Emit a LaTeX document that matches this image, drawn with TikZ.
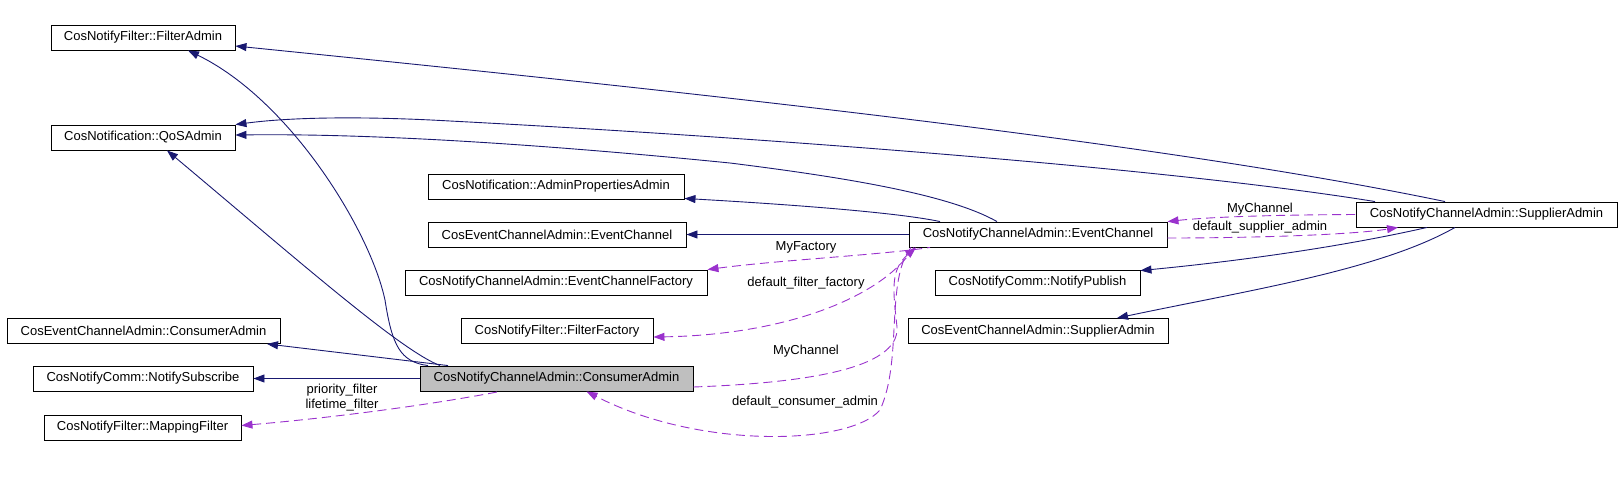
\documentclass[tikz,border=0pt]{standalone}
\usepackage{fontspec}
\setmainfont{Liberation Sans}
\usetikzlibrary{arrows.meta}
\definecolor{inhblue}{RGB}{25,25,112}
\definecolor{usepurple}{RGB}{154,50,205}
\definecolor{mainfill}{RGB}{191,191,191}
\tikzset{
  box/.style={draw=black, line width=0.9pt, minimum height=25pt, inner sep=0pt, font=\fontsize{13}{15}\selectfont, fill=white},
  mainbox/.style={box, fill=mainfill},
  inh/.style={draw=inhblue, line width=0.9pt, {Triangle[length=11pt,width=8pt,fill=inhblue]}-},
  usage/.style={draw=usepurple, line width=0.9pt, dash pattern=on 9pt off 5pt, {Triangle[length=11pt,width=8pt,fill=usepurple]}-},
  usagerev/.style={draw=usepurple, line width=0.9pt, dash pattern=on 9pt off 5pt, -{Triangle[length=11pt,width=8pt,fill=usepurple]}},
  lbl/.style={font=\fontsize{13}{15}\selectfont, inner sep=0pt, align=center},
}
\begin{document}
\begin{tikzpicture}[x=1pt,y=-1pt]
\useasboundingbox (0,0) rectangle (1621,483);
% nodes
\node[box, minimum width=184pt] (FA) at (143,37.5) {CosNotifyFilter::FilterAdmin};
\node[box, minimum width=184pt] (QA) at (143,137.5) {CosNotification::QoSAdmin};
\node[box, minimum width=256pt] (APA) at (556,186.5) {CosNotification::AdminPropertiesAdmin};
\node[box, minimum width=258pt] (ECA) at (557,234.5) {CosEventChannelAdmin::EventChannel};
\node[box, minimum width=302pt] (ECF) at (556,282.5) {CosNotifyChannelAdmin::EventChannelFactory};
\node[box, minimum width=192pt] (FF) at (557,331) {CosNotifyFilter::FilterFactory};
\node[box, minimum width=273pt] (CEA) at (143.5,331) {CosEventChannelAdmin::ConsumerAdmin};
\node[box, minimum width=220pt] (NS) at (143,378.5) {CosNotifyComm::NotifySubscribe};
\node[box, minimum width=197pt] (MF) at (142.5,427.5) {CosNotifyFilter::MappingFilter};
\node[mainbox, minimum width=273pt] (CA) at (556.5,378.5) {CosNotifyChannelAdmin::ConsumerAdmin};
\node[box, minimum width=258pt] (NEC) at (1038,234.5) {CosNotifyChannelAdmin::EventChannel};
\node[box, minimum width=205pt] (NP) at (1037.5,282.5) {CosNotifyComm::NotifyPublish};
\node[box, minimum width=260pt] (ESA) at (1038,331) {CosEventChannelAdmin::SupplierAdmin};
\node[box, minimum width=261pt] (NSA) at (1486.5,214.5) {CosNotifyChannelAdmin::SupplierAdmin};

% inheritance edges (blue)
\draw[inh] ([xshift=45pt]FA.south) .. controls (290,100) and (370,230) .. (385,300)
   .. controls (392,345) and (400,362) .. ([xshift=-128.5pt]CA.north);
\draw[inh] ([xshift=24pt]QA.south) .. controls (300,262) and (400,350) .. ([xshift=-116.5pt]CA.north);
\draw[inh] ([xshift=123.5pt]CEA.south) -- ([xshift=-108.5pt]CA.north);
\draw[inh] (NS.east) -- (CA.west);
\draw[inh] ([yshift=-8.5pt]FA.east) .. controls (650,88) and (1150,140) .. ([xshift=-41.5pt]NSA.north);
\draw[inh] (QA.north east) .. controls (300,116) and (380,117) .. (450,121)
   .. controls (700,134) and (1150,165) .. ([xshift=-111.5pt]NSA.north);
\draw[inh] ([yshift=2.5pt]QA.east) .. controls (400,133) and (600,150) .. (730,163)
   .. controls (850,178) and (950,195) .. ([xshift=-41pt]NEC.north);
\draw[inh] ([yshift=1pt]APA.south east) .. controls (800,205) and (900,213) .. ([xshift=-98pt]NEC.north);
\draw[inh] (ECA.east) -- (NEC.west);
\draw[inh] ([yshift=-1pt]NP.north east) .. controls (1250,260) and (1350,245) .. ([xshift=-59.5pt]NSA.south);
\draw[inh] ([xshift=79pt]ESA.north) .. controls (1250,290) and (1380,270) .. ([xshift=-31.5pt]NSA.south);

% usage edges (purple dashed)
\draw[usage] ([yshift=2pt]MF.east) .. controls (330,418) and (430,405) .. ([xshift=-56.5pt]CA.south);
\node[lbl] (lpf) at (342,398) {priority\_filter\\lifetime\_filter};
\draw[usage] (ECF.north east) .. controls (780,260) and (880,255) .. ([xshift=-108pt]NEC.south);
\node[lbl] (lmf) at (806,247) {MyFactory};
\draw[usage] ([yshift=-6pt]FF.east) .. controls (780,335) and (880,300) .. ([xshift=-124pt]NEC.south);
\node[lbl] (ldff) at (806,283) {default\_filter\_factory};
\draw[usagerev] ([yshift=-8.5pt]CA.east) .. controls (800,383) and (900,370) .. (897,327)
   .. controls (893,290) and (890,270) .. ([xshift=-122pt]NEC.south);
\node[lbl] (lmc) at (806,351) {MyChannel};
\draw[usagerev] ([xshift=-127pt]NEC.south) .. controls (885,280) and (903,360) .. (880,410)
   .. controls (850,445) and (700,450) .. ([xshift=30pt]CA.south);
\node[lbl] (ldca) at (805,402) {default\_consumer\_admin};
\draw[usage] (NEC.north east) .. controls (1200,218) and (1250,215) .. (NSA.west);
\node[lbl] (lmc2) at (1260,209) {MyChannel};
\draw[usagerev] ([yshift=-3.5pt]NEC.east) .. controls (1250,238) and (1350,235) .. ([xshift=-88.5pt]NSA.south);
\node[lbl] (ldsa) at (1260,227) {default\_supplier\_admin};
\end{tikzpicture}
\end{document}
